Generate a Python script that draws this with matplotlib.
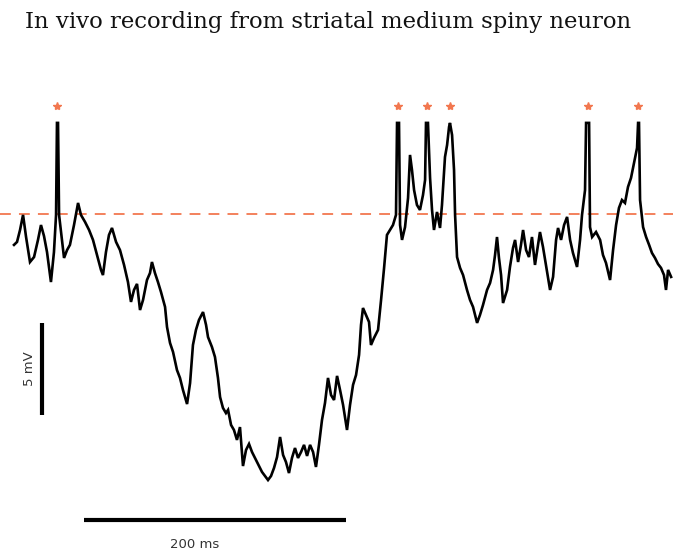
import matplotlib
matplotlib.use("Agg")
import matplotlib.pyplot as plt

# Membrane potential trace (time in ms, potential in mV)
time_ms = [
    0.0, 2.3, 4.6, 6.9, 9.2, 12.2, 15.3, 18.3, 20.6, 22.9, 25.2, 28.2, 30.5, 32.1, 32.8, 33.6,
    34.4, 35.9, 38.2, 40.5, 42.7, 45.8, 48.9, 51.1, 54.2, 57.3, 60.3, 63.4, 66.4, 67.9, 70.2,
    72.5, 74.8, 77.9, 80.9, 84.0, 87.0, 89.3, 91.6, 93.9, 96.2, 98.5, 101.5, 103.8, 105.3,
    107.6, 109.9, 112.2, 115.3, 116.8, 119.1, 121.4, 124.4, 126.7, 129.0, 132.1, 134.4, 136.6,
    138.9, 141.2, 144.3, 146.6, 148.1, 151.1, 153.4, 155.7, 157.3, 159.5, 161.8, 163.4, 165.7,
    167.9, 170.2, 172.5, 174.8, 177.1, 179.4, 181.7, 184.7, 187.0, 189.3, 191.6, 193.9, 196.2,
    198.5, 200.8, 203.1, 205.4, 207.6, 209.9, 212.2, 214.5, 216.8, 219.1, 221.4, 223.7, 226.0,
    228.3, 230.5, 232.8, 235.1, 237.4, 239.7, 242.0, 244.3, 246.6, 248.9, 251.2, 254.2, 256.5,
    258.8, 261.1, 263.4, 264.9, 266.4, 268.7, 271.0, 272.5, 274.8, 277.9, 280.2, 282.5, 284.7,
    287.0, 289.3, 291.6, 292.4, 293.9, 294.7, 296.2, 298.5, 300.8, 302.3, 303.8, 305.4, 307.6,
    309.9, 312.2, 313.8, 314.5, 316.0, 317.6, 319.1, 320.6, 322.9, 325.2, 326.7, 329.0, 330.6,
    332.1, 332.8, 334.4, 335.9, 336.7, 338.2, 340.5, 342.8, 345.8, 348.1, 350.4, 353.5, 355.7,
    358.0, 361.1, 363.4, 365.7, 367.2, 368.7, 370.2, 371.8, 373.3, 376.4, 378.6, 380.9, 382.5,
    384.8, 387.0, 388.6, 390.9, 393.1, 395.4, 397.7, 400.0, 401.5, 403.8, 406.9, 409.2, 411.5,
    413.8, 415.3, 417.6, 419.9, 422.2, 424.5, 426.7, 429.8, 432.1, 433.6, 435.9, 436.7, 439.0,
    439.7, 441.3, 444.3, 447.4, 449.6, 451.9, 455.0, 457.3, 459.6, 461.8, 464.1, 466.4, 468.7,
    471.0, 473.3, 475.6, 476.4, 477.1, 477.9, 480.2, 482.5, 484.8, 487.0, 489.3, 491.6, 493.9,
    496.2, 497.7, 499.3, 501.6,
]
membrane_mv = [
    -46.68, -46.52, -45.87, -45.05, -46.25, -47.61, -47.34, -46.41, -45.60, -46.20, -47.07,
    -48.70, -47.07, -45.05, -40.05, -40.05, -45.05, -45.98, -47.39, -46.96, -46.68, -45.60,
    -44.40, -45.05, -45.43, -45.87, -46.41, -47.23, -48.04, -48.32, -47.07, -46.14, -45.76,
    -46.52, -46.96, -47.77, -48.70, -49.78, -49.13, -48.80, -50.22, -49.67, -48.59, -48.21,
    -47.61, -48.21, -48.70, -49.24, -50.05, -51.14, -52.01, -52.50, -53.48, -53.91, -54.57,
    -55.33, -54.19, -52.12, -51.30, -50.76, -50.33, -51.03, -51.69, -52.23, -52.77, -53.91,
    -54.95, -55.54, -55.82, -55.65, -56.47, -56.74, -57.28, -56.58, -58.70, -57.83, -57.50,
    -57.94, -58.37, -58.70, -59.02, -59.24, -59.46, -59.24, -58.80, -58.21, -57.12, -58.10,
    -58.48, -59.08, -58.26, -57.72, -58.26, -57.94, -57.55, -58.15, -57.55, -57.94, -58.75,
    -57.55, -56.20, -55.27, -53.91, -54.84, -55.11, -53.80, -54.57, -55.38, -56.74, -55.38,
    -54.29, -53.75, -52.66, -51.03, -50.11, -50.49, -50.87, -52.12, -51.74, -51.30, -49.67,
    -47.93, -46.14, -45.87, -45.60, -45.05, -40.05, -40.05, -45.60, -46.41, -45.71, -44.13,
    -41.79, -42.61, -43.70, -44.51, -44.78, -43.97, -43.15, -40.05, -40.05, -43.04, -44.78,
    -45.87, -44.89, -45.76, -44.51, -41.90, -41.25, -40.27, -40.05, -40.71, -42.61, -45.05,
    -47.34, -47.93, -48.32, -49.13, -49.67, -50.05, -50.92, -50.49, -49.95, -49.13, -48.75,
    -48.04, -47.23, -46.25, -47.39, -48.32, -49.84, -49.13, -47.88, -46.85, -46.41, -47.61,
    -46.68, -45.87, -46.96, -47.34, -46.25, -47.77, -46.68, -45.98, -46.79, -48.15, -49.13,
    -48.42, -46.41, -45.76, -46.41, -45.60, -45.16, -46.41, -47.12, -47.88, -46.41, -45.05,
    -43.70, -40.05, -40.05, -45.71, -46.25, -45.98, -46.41, -47.23, -47.66, -48.59, -46.96,
    -45.60, -44.67, -44.24, -44.40, -43.53, -43.04, -42.23, -41.41, -40.05, -40.05, -44.24,
    -45.71, -46.25, -46.68, -47.12, -47.39, -47.72, -47.93, -48.32, -49.13, -48.04, -48.42,
]

# Action potential times (ms) and spike threshold (mV)
spike_times_ms = [33.2, 293.2, 315.3, 332.8, 437.8, 476.7]
threshold_mv = -45.0
marker_level_mv = -39.13

# Scale bars
time_bar_ms = 200
volt_bar_mv = 5

TITLE = "In vivo recording from striatal medium spiny neuron"
ORANGE = "#f2774f"

fig = plt.figure(figsize=(6.73, 5.54), dpi=100)
ax = fig.add_axes([0, 0, 1, 1])
ax.set_xlim(-10.69, 503.05)
ax.set_ylim(-63.48, -33.37)
ax.axis("off")

# Threshold line
ax.axhline(threshold_mv, color=ORANGE, lw=1.3, dashes=(6, 4.5), zorder=1)

# Voltage trace
ax.plot(time_ms, membrane_mv, color="black", lw=1.9, solid_joinstyle="miter", zorder=2)

# Spike markers
ax.plot(spike_times_ms, [marker_level_mv] * len(spike_times_ms), ls="none",
        marker="*", ms=6, color=ORANGE, mec=ORANGE, zorder=3)

# Scale bars
bar_t0 = 53.4
bar_y = -61.63
ax.plot([bar_t0, bar_t0 + time_bar_ms], [bar_y, bar_y], color="black", lw=3,
        solid_capstyle="butt")
ax.text(bar_t0 + time_bar_ms / 2 - 15.2, -62.99, f"{time_bar_ms} ms", ha="center",
        va="center", fontsize=9.5, color="#333333", family="DejaVu Sans")

vbar_t = 21.4
vbar_top = -50.92
ax.plot([vbar_t, vbar_t], [vbar_top, vbar_top - volt_bar_mv], color="black", lw=3,
        solid_capstyle="butt")
ax.text(12.0, vbar_top - volt_bar_mv / 2, f"{volt_bar_mv} mV", ha="center", va="center",
        rotation=90, fontsize=9.5, color="#333333", family="DejaVu Sans")

fig.text(0.487, 0.960, TITLE, ha="center", va="center", fontsize=16.4,
         family="DejaVu Serif", color="#111111")

fig.savefig("out.png", dpi=100)
